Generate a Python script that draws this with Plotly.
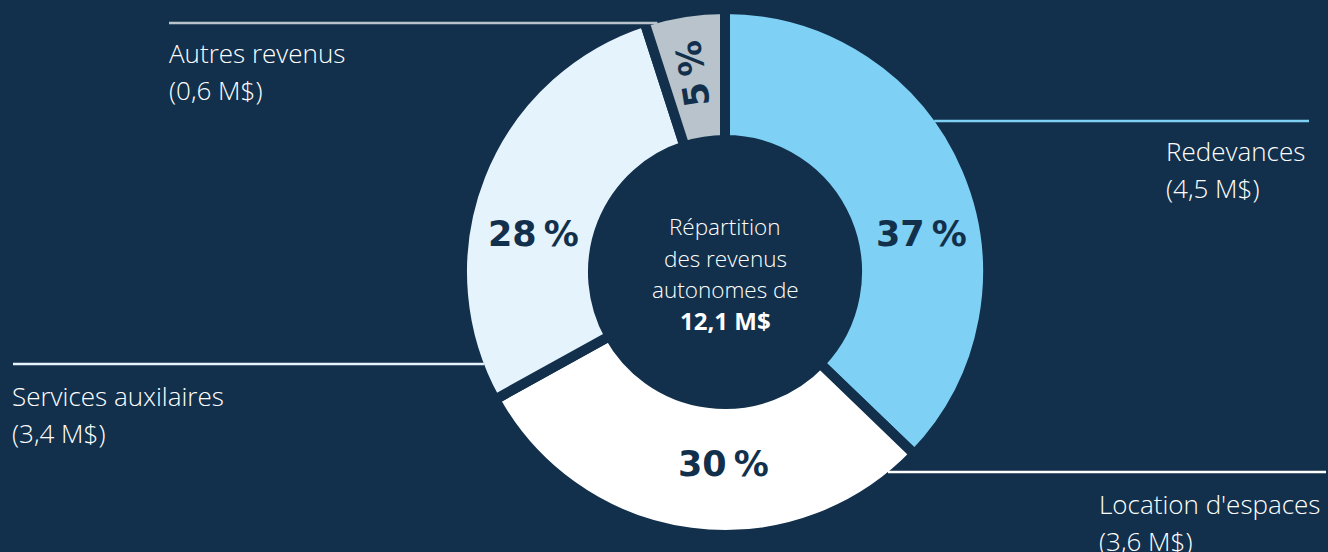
import plotly.graph_objects as go
import math

# ---- data ----
categories = ["Redevances", "Location d'espaces", "Services auxilaires", "Autres revenus"]
values_mds = [4.5, 3.6, 3.4, 0.6]          # M$
value_labels = ["(4,5 M$)", "(3,6 M$)", "(3,4 M$)", "(0,6 M$)"]
pct_labels = ["37\u2009%", "30\u2009%", "28\u2009%", "5\u2009%"]
total_label = "12,1 M$"

# ---- style ----
BG = "#12304b"
slice_colors = ["#7fd0f5", "#ffffff", "#e5f3fd", "#b8c3cb"]
W, H = 1328, 552
CX, CY = 725, 272          # pie centre (px)
R_FULL = 263               # pie radius incl. half stroke
GAP = 10
R_VIS = R_FULL - GAP / 2

def px(x):
    return x / W

def py(y):
    return 1 - y / H

fig = go.Figure()
fig.add_trace(go.Pie(
    labels=categories,
    values=values_mds,
    sort=False,
    direction="clockwise",
    rotation=0,
    hole=0.502,
    marker=dict(colors=slice_colors, line=dict(color=BG, width=GAP)),
    textinfo="none",
    hoverinfo="label+value+percent",
    showlegend=False,
    domain=dict(x=[px(CX - R_FULL), px(CX + R_FULL)],
                y=[py(CY + R_FULL), py(CY - R_FULL)]),
))

# leader lines (y position, side, x outer end) — inner end on the pie rim
lines = [
    (121, "right", 1309),
    (472, "right", 1326),
    (364, "left", 13),
    (23, "left", 169),
]
shapes = []
for (ly, side, xend), col in zip(lines, slice_colors):
    dx = math.sqrt(max(R_VIS ** 2 - (ly - CY) ** 2, 0))
    if side == "right":
        x0, x1 = CX + dx, xend
    else:
        x0, x1 = xend, CX - dx
    shapes.append(dict(type="line", xref="paper", yref="paper", layer="above",
                       x0=px(x0), x1=px(x1), y0=py(ly), y1=py(ly),
                       line=dict(color=col, width=2.5)))

label_font = dict(family="Open Sans", size=26, color="#ffffff", weight=300)
# (left x, baseline of first line)
label_pos = [(1167, 160), (1100, 513), (13, 405), (170, 62)]
ann = []
for name, val, (lx, lb) in zip(categories, value_labels, label_pos):
    for i, t in enumerate([name, val]):
        ann.append(dict(text=t, x=px(lx), y=py(lb + i * 37 - 9), xref="paper", yref="paper",
                        xanchor="left", yanchor="middle", showarrow=False,
                        font=label_font, xshift=-3))

pct_font = dict(family="DejaVu Sans", size=35, color=BG)
pct_pos = [(921, 234, 0), (723, 464, 0), (533, 234, 0), (693, 74, -99)]
for t, (x, y, a) in zip(pct_labels, pct_pos):
    ann.append(dict(text="<b>%s</b>" % t, x=px(x), y=py(y), xref="paper", yref="paper",
                    xanchor="center", yanchor="middle", showarrow=False,
                    font=pct_font, textangle=a))

center_font = dict(family="Open Sans", size=22.5, color="#ffffff", weight=300)
center_lines = ["Répartition", "des revenus", "autonomes de"]
for i, t in enumerate(center_lines):
    ann.append(dict(text=t, x=px(CX), y=py(227 + i * 31), xref="paper", yref="paper",
                    xanchor="center", yanchor="middle", showarrow=False, font=center_font))
ann.append(dict(text="<b>%s</b>" % total_label, x=px(CX), y=py(320), xref="paper", yref="paper",
                xanchor="center", yanchor="middle", showarrow=False,
                font=dict(family="Open Sans", size=24, color="#ffffff")))

fig.update_layout(
    width=W, height=H,
    margin=dict(l=0, r=0, t=0, b=0),
    paper_bgcolor=BG, plot_bgcolor=BG,
    shapes=shapes, annotations=ann,
)
fig.write_html("out.html", config={"displayModeBar": False})

# remove the default page margin so the figure fills the window
with open("out.html", "r", encoding="utf-8") as f:
    html = f.read()
html = html.replace("<head>", "<head><style>html,body{margin:0;padding:0;background:%s;overflow:hidden}</style>" % BG, 1)
with open("out.html", "w", encoding="utf-8") as f:
    f.write(html)
